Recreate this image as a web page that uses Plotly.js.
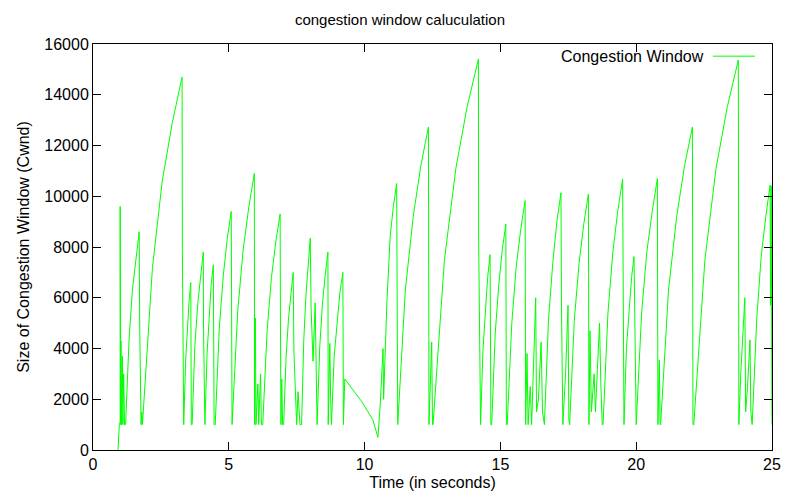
<!DOCTYPE html>
<html>
<head>
<meta charset="utf-8">
<script src="https://cdn.plot.ly/plotly-3.0.1.min.js"></script>
<style>body{margin:0}#chart{width:800px;height:500px}</style>
</head>
<body>
<div id="chart"></div>
<script>
// time (s) and cwnd samples, one tooth per line
const times = [
  0.92, 0.93, 0.97, 1.0, 1.0, 1.02, 1.03, 1.05, 1.08, 1.1, 1.13, 1.16, 1.2,
  1.33, 1.45, 1.58, 1.7, 1.72, 1.77, 1.8,
  1.82, 2.19, 2.55, 2.92, 3.28, 3.29, 3.32,
  3.34, 3.41, 3.47, 3.54, 3.6, 3.62,
  3.65, 3.75, 3.86, 3.96, 4.06, 4.07, 4.1,
  4.12, 4.2, 4.28, 4.35, 4.43, 4.46,
  4.5, 4.65, 4.8, 4.94, 5.09, 5.1,
  5.12, 5.33, 5.53, 5.74, 5.94, 5.95,
  5.98, 6.0, 6.07, 6.1, 6.17, 6.2,
  6.25, 6.41, 6.57, 6.73, 6.89, 6.9, 6.92, 6.95, 6.98,
  7.02, 7.11, 7.2, 7.28, 7.37, 7.4, 7.45, 7.5, 7.55, 7.62,
  7.68, 7.76, 7.84, 7.92, 8.0, 8.03, 8.1, 8.18, 8.23,
  8.25, 8.35, 8.45, 8.55, 8.65, 8.66, 8.72, 8.75,
  8.78, 8.88, 8.99, 9.09, 9.2, 9.22, 9.27, 9.9, 10.3, 10.49,
  10.57, 10.62, 10.68, 10.7, 10.82, 10.94, 11.06, 11.18, 11.2,
  11.22, 11.5, 11.79, 12.07, 12.35, 12.37, 12.42, 12.47, 12.5,
  12.52, 12.94, 13.36, 13.77, 14.19, 14.2, 14.25,
  14.27, 14.36, 14.45, 14.53, 14.62, 14.65,
  14.68, 14.81, 14.94, 15.07, 15.2, 15.22,
  15.25, 15.42, 15.58, 15.75, 15.91, 15.93,
  15.98, 16.02, 16.1, 16.15, 16.3, 16.33, 16.4, 16.5, 16.55, 16.6,
  16.62, 16.77, 16.93, 17.08, 17.23, 17.25, 17.3, 17.4, 17.49, 17.52,
  17.55, 17.72, 17.9, 18.07, 18.24, 18.26, 18.3, 18.35, 18.45, 18.5, 18.65, 18.7, 18.75,
  18.78, 18.96, 19.14, 19.32, 19.5, 19.53,
  19.55, 19.64, 19.74, 19.83, 19.92, 19.95, 19.98,
  20.0, 20.2, 20.39, 20.59, 20.78, 20.8, 20.85, 20.88,
  20.9, 21.19, 21.49, 21.78, 22.07, 22.09,
  22.12, 22.53, 22.94, 23.35, 23.76, 23.78, 23.85, 24.0, 24.03, 24.1, 24.19, 24.22, 24.25,
  24.27, 24.44, 24.6, 24.77, 24.93, 24.95, 24.97, 25.0
];
const cwnd = [
  0, 300, 1000, 1100, 9600, 1000, 4300, 1000, 3700, 1000, 3000, 1000, 1000,
  4400, 6300, 7600, 8600, 4800, 1000, 1500,
  1000, 7200, 10600, 12900, 14700, 7900, 1000,
  1000, 3500, 4900, 5900, 6600, 1000,
  1000, 4100, 5800, 6900, 7800, 4800, 1000,
  1000, 3800, 5400, 6500, 7300, 1000,
  1000, 4800, 6900, 8300, 9400, 1000,
  1000, 5500, 7900, 9600, 10900, 1000,
  5200, 1000, 2600, 1000, 3000, 1000,
  1000, 4700, 6800, 8200, 9300, 5500, 1000, 2800, 1000,
  1000, 3700, 5200, 6200, 7000, 3800, 2000, 1000, 2300, 1000,
  1000, 4300, 6100, 7400, 8350, 5600, 3500, 5800, 1000,
  1000, 4100, 5800, 6900, 7800, 1000, 4200, 2000,
  1000, 3700, 5200, 6200, 7000, 1000, 2800, 1900, 1200, 500,
  1700, 3000, 4000, 2000, 5800, 8400, 9600, 10500, 1000,
  1000, 6300, 9200, 11200, 12730, 1000, 3000, 4250, 1000,
  1000, 7500, 11100, 13500, 15400, 8200, 1000,
  1000, 4000, 5700, 6800, 7700, 1000,
  1000, 4600, 6500, 7900, 8900, 1000,
  1000, 5000, 7200, 8700, 9830, 1000,
  3800, 1000, 2500, 1000, 6000, 1500, 2000, 4250, 1500, 1000,
  1000, 5100, 7400, 9000, 10140, 5600, 1000, 3000, 5700, 1200,
  1000, 5100, 7400, 8900, 10090, 1000, 4700, 1500, 3000, 1500, 5000, 2500, 1000,
  1000, 5400, 7800, 9400, 10680, 1000,
  1000, 4000, 5600, 6800, 7620, 4000, 1000,
  1000, 5400, 7800, 9400, 10700, 1000, 3550, 1000,
  1000, 6300, 9200, 11200, 12730, 1000,
  1000, 7500, 11100, 13500, 15370, 1000, 3000, 6000, 1500, 2500, 4340, 1500, 1000,
  1000, 5200, 7600, 9200, 10440, 5700, 10400, 1000
];
const seriesName = 'Congestion Window';
const lineColor = '#00ff00';

const trace = {
  x: times, y: cwnd, type: 'scatter', mode: 'lines', name: seriesName,
  line: {color: lineColor, width: 1}, showlegend: false
};

const axisBase = {
  showline: true, mirror: 'ticks', linecolor: '#000', linewidth: 1,
  ticks: 'inside', ticklen: 8, tickcolor: '#000', showgrid: false, zeroline: false,
  tickfont: {size: 16, color: '#000'}, tickformat: 'd'
};

const layout = {
  width: 800, height: 500,
  margin: {l: 93, r: 28, t: 44, b: 50},
  paper_bgcolor: '#fff', plot_bgcolor: '#fff',
  font: {family: 'Liberation Sans, Arial, sans-serif', color: '#000'},
  title: {text: 'congestion window caluculation', font: {size: 15}, x: 0.5, y: 0.96, yanchor: 'middle'},
  xaxis: Object.assign({}, axisBase, {range: [0, 25], dtick: 5,
    title: {text: 'Time (in seconds)', font: {size: 16}, standoff: 4}}),
  yaxis: Object.assign({}, axisBase, {range: [0, 16000], dtick: 2000,
    title: {text: 'Size of Congestion Window (Cwnd)', font: {size: 16}, standoff: 10}}),
  annotations: [{
    xref: 'paper', yref: 'paper', x: 0.903, y: 0.97, xanchor: 'right', yanchor: 'middle',
    text: seriesName, showarrow: false, font: {size: 16}
  }],
  shapes: [{
    type: 'line', xref: 'paper', yref: 'paper', x0: 0.913, x1: 0.975, y0: 0.97, y1: 0.97,
    line: {color: lineColor, width: 1}
  }]
};

Plotly.newPlot('chart', [trace], layout, {displayModeBar: false});
</script>
</body>
</html>
